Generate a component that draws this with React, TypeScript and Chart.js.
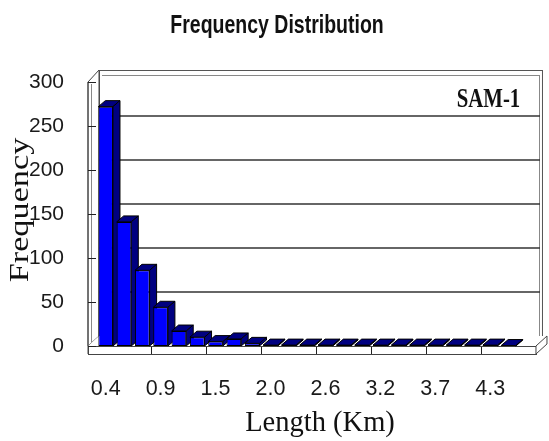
import { useEffect, useRef } from 'react';
import { Chart, registerables } from 'chart.js';

Chart.register(...registerables);

// ---- data ----
const binLabels = [
  '0.4', '0.6', '0.7', '0.9', '1.1', '1.3', '1.5', '1.7', '1.9', '2.0', '2.2', '2.4',
  '2.6', '2.8', '3.0', '3.2', '3.3', '3.5', '3.7', '3.9', '4.1', '4.3', '4.5', '4.6',
];
const frequency: (number | null)[] = [
  272, 141, 86, 44, 17, 10, 5, 8, 3, 1, 1, 1,
  1, 1, 1, 1, 1, 1, 1, 1, 1, 1, 0.5, null,
];
const yTickValues = [0, 50, 100, 150, 200, 250, 300];
const labelEvery = 3;
const chartTitle = 'Frequency Distribution';
const xTitle = 'Length (Km)';
const yTitle = 'Frequency';
const seriesName = 'SAM-1';

const SANS = "'Liberation Sans', Arial, sans-serif";
const SERIF = "'Liberation Serif', 'Times New Roman', serif";

function line(ctx: CanvasRenderingContext2D, x1: number, y1: number, x2: number, y2: number) {
  ctx.beginPath();
  ctx.moveTo(x1, y1);
  ctx.lineTo(x2, y2);
  ctx.stroke();
}

const threeD = {
  id: 'threeD',
  beforeDatasetsDraw(chart: any) {
    const { ctx, chartArea: ca, scales } = chart;
    const ys = scales.y;
    const FL = ca.left - 8.5;
    const FR = ca.right;
    const FT = ys.getPixelForValue(300);
    const FB = ca.bottom;
    const DX = 11, DY = 10;
    const wallTop = FT - DY - 2;
    const wallRight = FR + 7;
    ctx.save();
    // back wall
    ctx.fillStyle = '#ffffff';
    ctx.fillRect(FL + DX, wallTop, wallRight - (FL + DX), FB - DY - wallTop);
    ctx.strokeStyle = '#555555';
    ctx.lineWidth = 1;
    ctx.strokeRect(Math.round(FL + DX) + 0.5, Math.round(wallTop) + 0.5, wallRight - (FL + DX) - 1, FB - DY - wallTop);
    ctx.strokeStyle = '#888888';
    line(ctx, FL + DX + 3, Math.round(wallTop) + 5.5, wallRight - 3, Math.round(wallTop) + 5.5);
    line(ctx, Math.round(wallRight) - 3.5, wallTop + 5, Math.round(wallRight) - 3.5, FB - DY);
    // gridlines on back wall
    ctx.strokeStyle = '#333333';
    ctx.lineWidth = 1.6;
    for (const v of yTickValues) {
      if (v === 0 || v === 300) continue;
      const py = ys.getPixelForValue(v) - DY;
      line(ctx, FL + DX, py, wallRight - 3, py);
    }
    // side wall
    ctx.lineWidth = 1;
    ctx.fillStyle = '#ffffff';
    ctx.beginPath();
    ctx.moveTo(FL, FT);
    ctx.lineTo(FL + DX, wallTop);
    ctx.lineTo(FL + DX, FB - DY);
    ctx.lineTo(FL, FB);
    ctx.closePath();
    ctx.fill();
    ctx.strokeStyle = '#444444';
    ctx.stroke();
    ctx.strokeStyle = '#888888';
    line(ctx, FL + 3.5, FT + 2, FL + 3.5, FB + 2);
    // floor
    ctx.fillStyle = '#ffffff';
    ctx.beginPath();
    ctx.moveTo(FL, FB);
    ctx.lineTo(FL + DX, FB - DY);
    ctx.lineTo(FR + DX, FB - DY);
    ctx.lineTo(FR, FB);
    ctx.closePath();
    ctx.fill();
    ctx.fillRect(FL, FB, FR - FL, 8);
    ctx.strokeStyle = '#444444';
    ctx.strokeRect(Math.round(FL) + 0.5, Math.round(FB) + 0.5, FR - FL, 8);
    ctx.beginPath();
    ctx.moveTo(FR, FB);
    ctx.lineTo(FR + DX, FB - DY);
    ctx.lineTo(FR + DX, FB - DY + 8);
    ctx.lineTo(FR, FB + 8);
    ctx.closePath();
    ctx.fill();
    ctx.stroke();
    ctx.beginPath();
    ctx.moveTo(FL, FT);
    ctx.lineTo(FL, FB + 8);
    ctx.stroke();
    // y tick marks
    ctx.strokeStyle = '#222222';
    for (const v of yTickValues) {
      const py = Math.round(ys.getPixelForValue(v)) + 0.5;
      line(ctx, FL, py, FL + 8, py);
    }
    // x tick marks
    const n = binLabels.length;
    const step = (ca.right - ca.left) / n;
    for (let k = labelEvery; k < n; k += labelEvery) {
      const px = Math.round(ca.left + k * step) + 0.5;
      line(ctx, px, FB + 1, px, FB + 8);
    }
    // bar depth faces (top + side)
    const meta = chart.getDatasetMeta(0);
    const bdx = 7, bdy = 6;
    ctx.fillStyle = '#000080';
    ctx.strokeStyle = '#000000';
    ctx.lineWidth = 1;
    meta.data.forEach((el: any, i: number) => {
      if (frequency[i] == null) return;
      const { x, y, base, width } = el.getProps(['x', 'y', 'base', 'width'], true);
      const L = x - width / 2;
      const R = x + width / 2;
      ctx.beginPath();
      ctx.moveTo(L, y);
      ctx.lineTo(L + bdx, y - bdy);
      ctx.lineTo(R + bdx, y - bdy);
      ctx.lineTo(R, y);
      ctx.closePath();
      ctx.fill();
      ctx.stroke();
      ctx.beginPath();
      ctx.moveTo(R, y);
      ctx.lineTo(R + bdx, y - bdy);
      ctx.lineTo(R + bdx, base - bdy);
      ctx.lineTo(R, base);
      ctx.closePath();
      ctx.fill();
      ctx.stroke();
    });
    ctx.restore();
  },
  afterDraw(chart: any) {
    const { ctx } = chart;
    ctx.save();
    ctx.fillStyle = '#111111';
    ctx.textAlign = 'center';
    ctx.textBaseline = 'alphabetic';
    // main title (condensed look: taller than wide)
    ctx.save();
    ctx.translate(277, 33);
    ctx.scale(1, 1.3);
    ctx.font = `bold 19.5px ${SANS}`;
    ctx.fillText(chartTitle, 0, 0);
    ctx.restore();
    // x title
    ctx.font = `28.5px ${SERIF}`;
    ctx.fillText(xTitle, 320, 431);
    // y title (rotated, stretched)
    ctx.save();
    ctx.translate(27.5, 210);
    ctx.rotate(-Math.PI / 2);
    ctx.scale(1.27, 1);
    ctx.font = `27px ${SERIF}`;
    ctx.fillText(yTitle, 0, 0);
    ctx.restore();
    // series name
    ctx.save();
    ctx.translate(488.5, 107);
    ctx.scale(0.77, 1);
    ctx.font = `bold 27px ${SERIF}`;
    ctx.fillText(seriesName, 0, 0);
    ctx.restore();
    ctx.restore();
  },
};

export default function App() {
  const ref = useRef<HTMLCanvasElement>(null);
  useEffect(() => {
    const chart = new Chart(ref.current as HTMLCanvasElement, {
      type: 'bar',
      data: {
        labels: binLabels,
        datasets: [
          {
            label: seriesName,
            data: frequency,
            backgroundColor: '#0000ff',
            borderColor: '#000000',
            borderWidth: 1,
            borderSkipped: false,
            barPercentage: 0.8,
            categoryPercentage: 1,
          },
        ],
      },
      options: {
        responsive: false,
        animation: false,
        devicePixelRatio: 1,
        layout: { padding: { top: 82, right: 8.5, bottom: 0, left: 0 } },
        plugins: { legend: { display: false }, tooltip: { enabled: false }, title: { display: false } },
        scales: {
          x: {
            type: 'category',
            offset: true,
            grid: { display: false },
            border: { display: false },
            ticks: {
              autoSkip: false,
              maxRotation: 0,
              minRotation: 0,
              padding: 22,
              color: '#1a1a1a',
              font: { family: SANS, size: 21.5 },
              callback: (_v: any, i: number) => (i % labelEvery === 0 ? binLabels[i] : ''),
            },
            afterFit: (s: any) => {
              s.height = 95;
            },
          },
          y: {
            min: 0,
            max: 300,
            grid: { display: false },
            border: { display: false },
            ticks: {
              stepSize: 50,
              padding: 24.5,
              color: '#1a1a1a',
              font: { family: SANS, size: 21 },
            },
            afterFit: (s: any) => {
              s.width = 96.5;
            },
          },
        },
      },
      plugins: [threeD],
    });
    return () => chart.destroy();
  }, []);
  return (
    <div style={{ position: 'fixed', left: 0, top: 0, width: 549, height: 441, background: '#ffffff' }}>
      <canvas ref={ref} width={549} height={441} style={{ display: 'block' }} />
    </div>
  );
}
